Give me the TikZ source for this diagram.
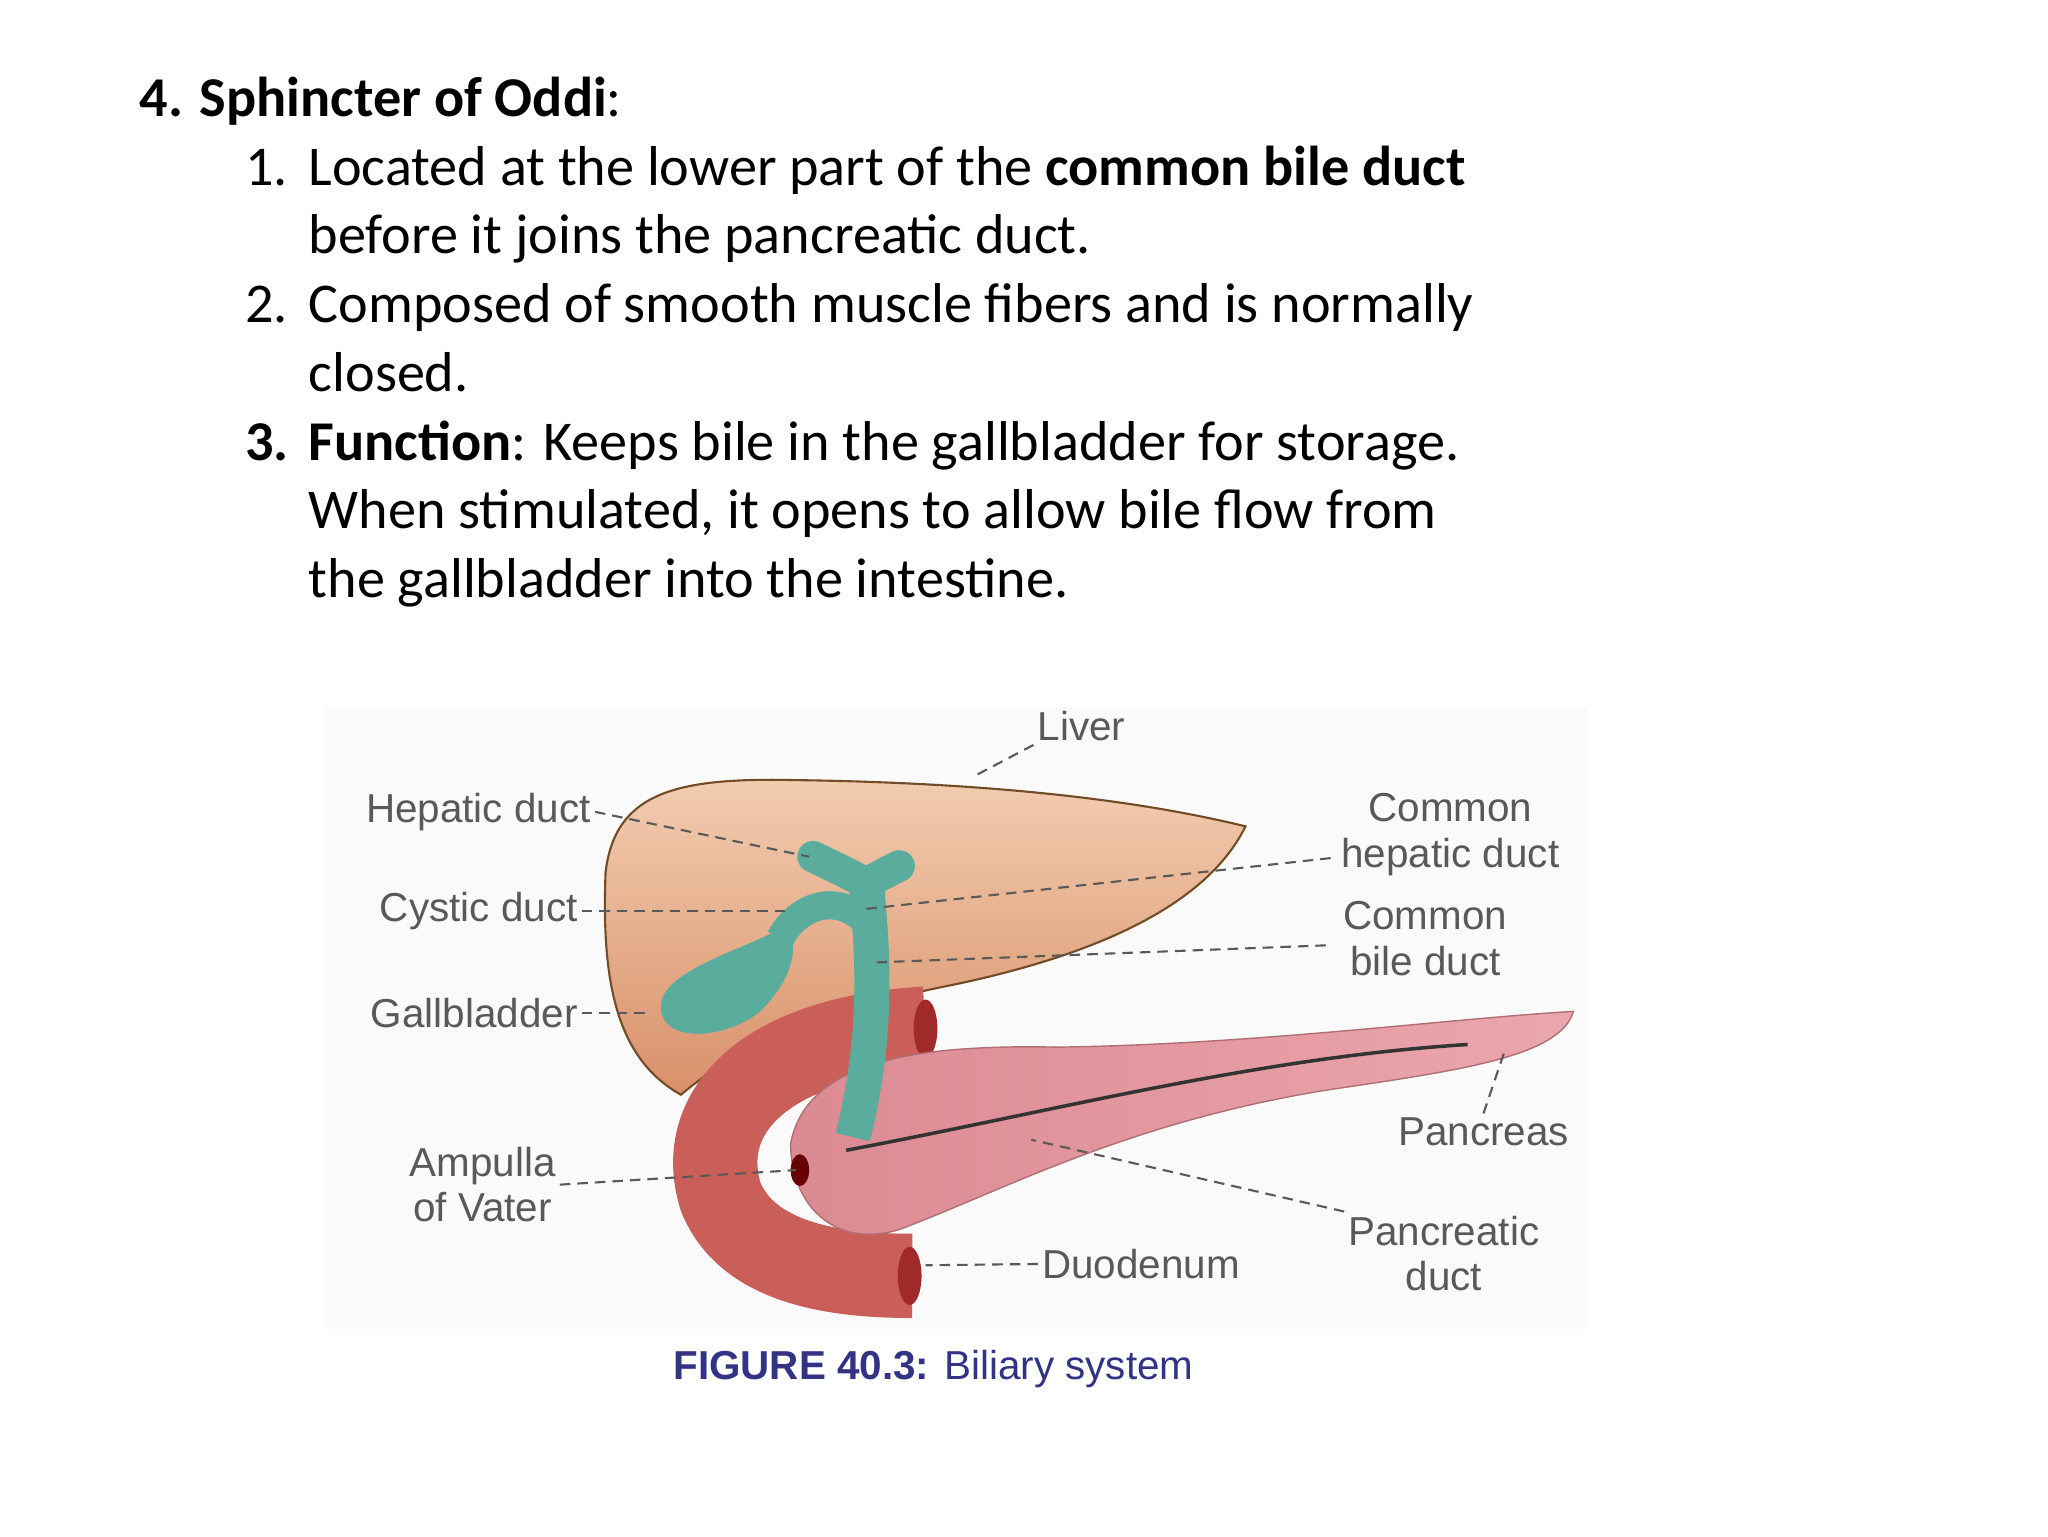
\documentclass[tikz,border=0pt]{standalone}
\usepackage{fontspec}
\setmainfont{Carlito}
\newfontfamily\lab{Liberation Sans}
\definecolor{duo}{HTML}{C95F58}
\definecolor{duodark}{HTML}{A02A2A}
\definecolor{panc}{HTML}{DC8A92}
\definecolor{pancl}{HTML}{EBA7AE}
\definecolor{bile}{HTML}{5AAD9C}
\definecolor{livtop}{HTML}{F2CDB0}
\definecolor{livbot}{HTML}{D9906A}
\begin{document}
\begin{tikzpicture}[x=0.013222cm,y=-0.013222cm,
  txt/.style={anchor=base west,inner sep=0,font=\fontsize{16}{19.6}\selectfont},
  lb/.style={font=\lab\fontsize{11.5}{13}\selectfont,text=black!65,inner sep=1pt,align=center},
  ld/.style={densely dashed,black!65,line width=0.6pt}]
\useasboundingbox (0,0) rectangle (1549,1161.8);
% text
\node[txt] (h) at (105,88) {\textbf{4. Sphincter of Oddi}:};
\node[txt] (n1) at (185,140) {1.};
\node[txt] (t1) at (233,140) {Located at the lower part of the \textbf{common bile duct}};
\node[txt] (t1b) at (233,192) {before it joins the pancreatic duct.};
\node[txt] (n2) at (185,244) {2.};
\node[txt] (t2) at (233,244) {Composed of smooth muscle fibers and is normally};
\node[txt] (t2b) at (233,296) {closed.};
\node[txt] (n3) at (185,348) {\textbf{3.}};
\node[txt] (t3) at (233,348) {\textbf{Function}: Keeps bile in the gallbladder for storage.};
\node[txt] (t3b) at (233,400) {When stimulated, it opens to allow bile flow from};
\node[txt] (t3c) at (233,452) {the gallbladder into the intestine.};
% figure
\fill[black!2] (245,535) rectangle (1200,1005);
% liver
\shade[top color=livtop,bottom color=livbot,draw=brown!60!black,line width=0.6pt]
 (458,660) .. controls (465,600) and (510,588) .. (600,590)
 .. controls (750,592) and (860,605) .. (942,625)
 .. controls (915,680) and (840,720) .. (720,745)
 .. controls (620,765) and (560,790) .. (515,828)
 .. controls (465,800) and (455,740) .. (458,660) -- cycle;
% duodenum
\draw[line width=24pt,duo] (700,778) .. controls (580,785) and (525,840) .. (545,905) .. controls (565,955) and (630,965) .. (690,965);
\fill[duodark] (700,778) ellipse (9 and 22);
\fill[duodark] (688,965) ellipse (9 and 22);
% pancreas
\shade[left color=panc,right color=pancl,draw=panc!80!black]
 (598,865) .. controls (610,800) and (700,790) .. (800,792)
 .. controls (950,790) and (1100,770) .. (1190,765)
 .. controls (1180,800) and (1100,810) .. (1000,825)
 .. controls (850,850) and (760,900) .. (680,930)
 .. controls (630,945) and (598,910) .. (598,865) -- cycle;
\draw[black!80,line width=1pt] (640,870) .. controls (800,840) and (950,800) .. (1110,790);
\fill[red!40!black] (605,885) ellipse (7 and 12);
% bile ducts
\draw[bile,line width=9pt,line cap=round] (615,648) .. controls (640,660) .. (655,668) .. controls (670,660) .. (680,655);
\draw[bile,line width=10pt] (655,665) .. controls (660,720) and (665,780) .. (645,860);
\draw[bile,line width=8pt] (658,700) .. controls (630,670) and (600,690) .. (590,710);
\fill[bile] (500,765) .. controls (495,735) and (560,720) .. (595,700) .. controls (605,715) and (600,740) .. (575,765) .. controls (550,785) and (505,790) .. (500,765) -- cycle;
% labels
\node[lb] (liver) at (818,549) {Liver};
\node[lb,anchor=east] (hep) at (450,614) {Hepatic duct};
\node[lb,anchor=east] (cys) at (440,689) {Cystic duct};
\node[lb,anchor=east] (gb) at (440,766) {Gallbladder};
\node[lb] (amp) at (365,896) {Ampulla\\of Vater};
\node[lb] (chd) at (1097,631) {Common\\hepatic duct};
\node[lb] (cbd) at (1078,710) {Common\\bile duct};
\node[lb] (pan) at (1122,856) {Pancreas};
\node[lb] (pd) at (1092,948) {Pancreatic\\duct};
\node[lb,anchor=west] (duo) at (785,956) {Duodenum};
\node[font=\lab\bfseries\fontsize{11.5}{13}\selectfont,text=blue!40!black!80,anchor=base west] (cap) at (500,1043) {FIGURE 40.3: \mdseries Biliary system};
\coordinate (c1) at (735,588);
\coordinate (c2) at (612,648);
\coordinate (c3) at (596,689);
\coordinate (c4) at (490,766);
\coordinate (c5) at (602,885);
\coordinate (c6) at (650,688);
\coordinate (c7) at (660,728);
\coordinate (c8) at (1138,795);
\coordinate (c9) at (780,862);
\coordinate (c10) at (700,957);
\draw[ld] (liver.south west) -- (c1);
\draw[ld] (hep.east) -- (c2);
\draw[ld] (cys.east) -- (c3);
\draw[ld] (gb.east) -- (c4);
\draw[ld] (amp.east) -- (c5);
\draw[ld] (chd.west) ++(-5,18) -- (c6);
\draw[ld] (cbd.west) ++(-10,5) -- (c7);
\draw[ld] (pan.north) -- (c8);
\draw[ld] (pd.north west) -- (c9);
\draw[ld] (duo.west) -- (c10);
\end{tikzpicture}
\end{document}
